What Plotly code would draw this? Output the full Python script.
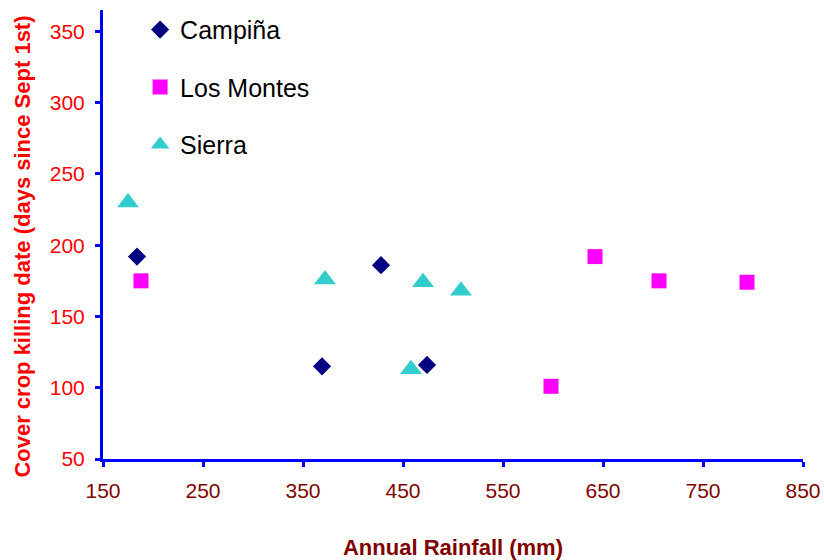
import plotly.graph_objects as go

# Data
campina_x = [184, 369, 428, 474]
campina_y = [192, 115, 186, 116]
montes_x = [188, 598, 642, 706, 794]
montes_y = [175, 101, 192, 175, 174]
sierra_x = [175, 372, 470, 508, 458]
sierra_y = [230, 176, 174, 168, 113]

x_ticks = [150, 250, 350, 450, 550, 650, 750, 850]
y_ticks = [50, 100, 150, 200, 250, 300, 350]

FONT = "Liberation Sans, Arial, sans-serif"

fig = go.Figure()
fig.add_trace(go.Scatter(x=campina_x, y=campina_y, mode="markers", name="Campiña",
                         legendgroup="a",
                         marker=dict(symbol="diamond", size=14, color="#000080")))
fig.add_trace(go.Scatter(x=montes_x, y=montes_y, mode="markers", name="Los Montes",
                         legendgroup="b",
                         marker=dict(symbol="square", size=15, color="#FF00FF")))
fig.add_trace(go.Scatter(x=sierra_x, y=sierra_y, mode="markers", name="Sierra",
                         legendgroup="c",
                         marker=dict(symbol="triangle-up", size=19, color="#33CCCC")))

fig.update_layout(
    width=824, height=560,
    margin=dict(l=103, r=21, t=10, b=101, autoexpand=False),
    paper_bgcolor="white", plot_bgcolor="white",
    font=dict(family=FONT),
    showlegend=True,
    legend=dict(x=0.053, y=1.007, xanchor="left", yanchor="top",
                font=dict(size=25, color="black", family=FONT),
                tracegroupgap=22, bgcolor="rgba(0,0,0,0)"),
    xaxis=dict(range=[150, 850], tickvals=x_ticks, showgrid=False, zeroline=False,
               automargin=False,
               showline=True, linecolor="#0000FF", linewidth=3,
               ticks="outside", ticklen=5, tickwidth=3, tickcolor="#0000FF",
               ticklabelstandoff=6,
               tickfont=dict(size=21, color="#800000", family=FONT),
               title=dict(text="<b>Annual Rainfall (mm)</b>", standoff=46,
                          font=dict(size=22, color="#800000", family=FONT))),
    yaxis=dict(range=[50, 365], tickvals=y_ticks, showgrid=False, zeroline=False,
               automargin=False,
               showline=True, linecolor="#0000FF", linewidth=3,
               ticks="outside", ticklen=5, tickwidth=3, tickcolor="#0000FF",
               ticklabelstandoff=6,
               tickfont=dict(size=21, color="#FF0000", family=FONT)),
    annotations=[dict(text="<b>Cover crop killing date (days since Sept 1st)</b>",
                      xref="paper", yref="paper", x=0, y=0.473,
                      xanchor="center", yanchor="middle", xshift=-80,
                      textangle=-90, showarrow=False,
                      font=dict(size=22, color="#FF0000", family=FONT))],
)

fig.write_html("out.html",
               config={"displayModeBar": False},
               post_script="document.body.style.margin='0';"
                           "document.body.style.overflow='hidden';")
